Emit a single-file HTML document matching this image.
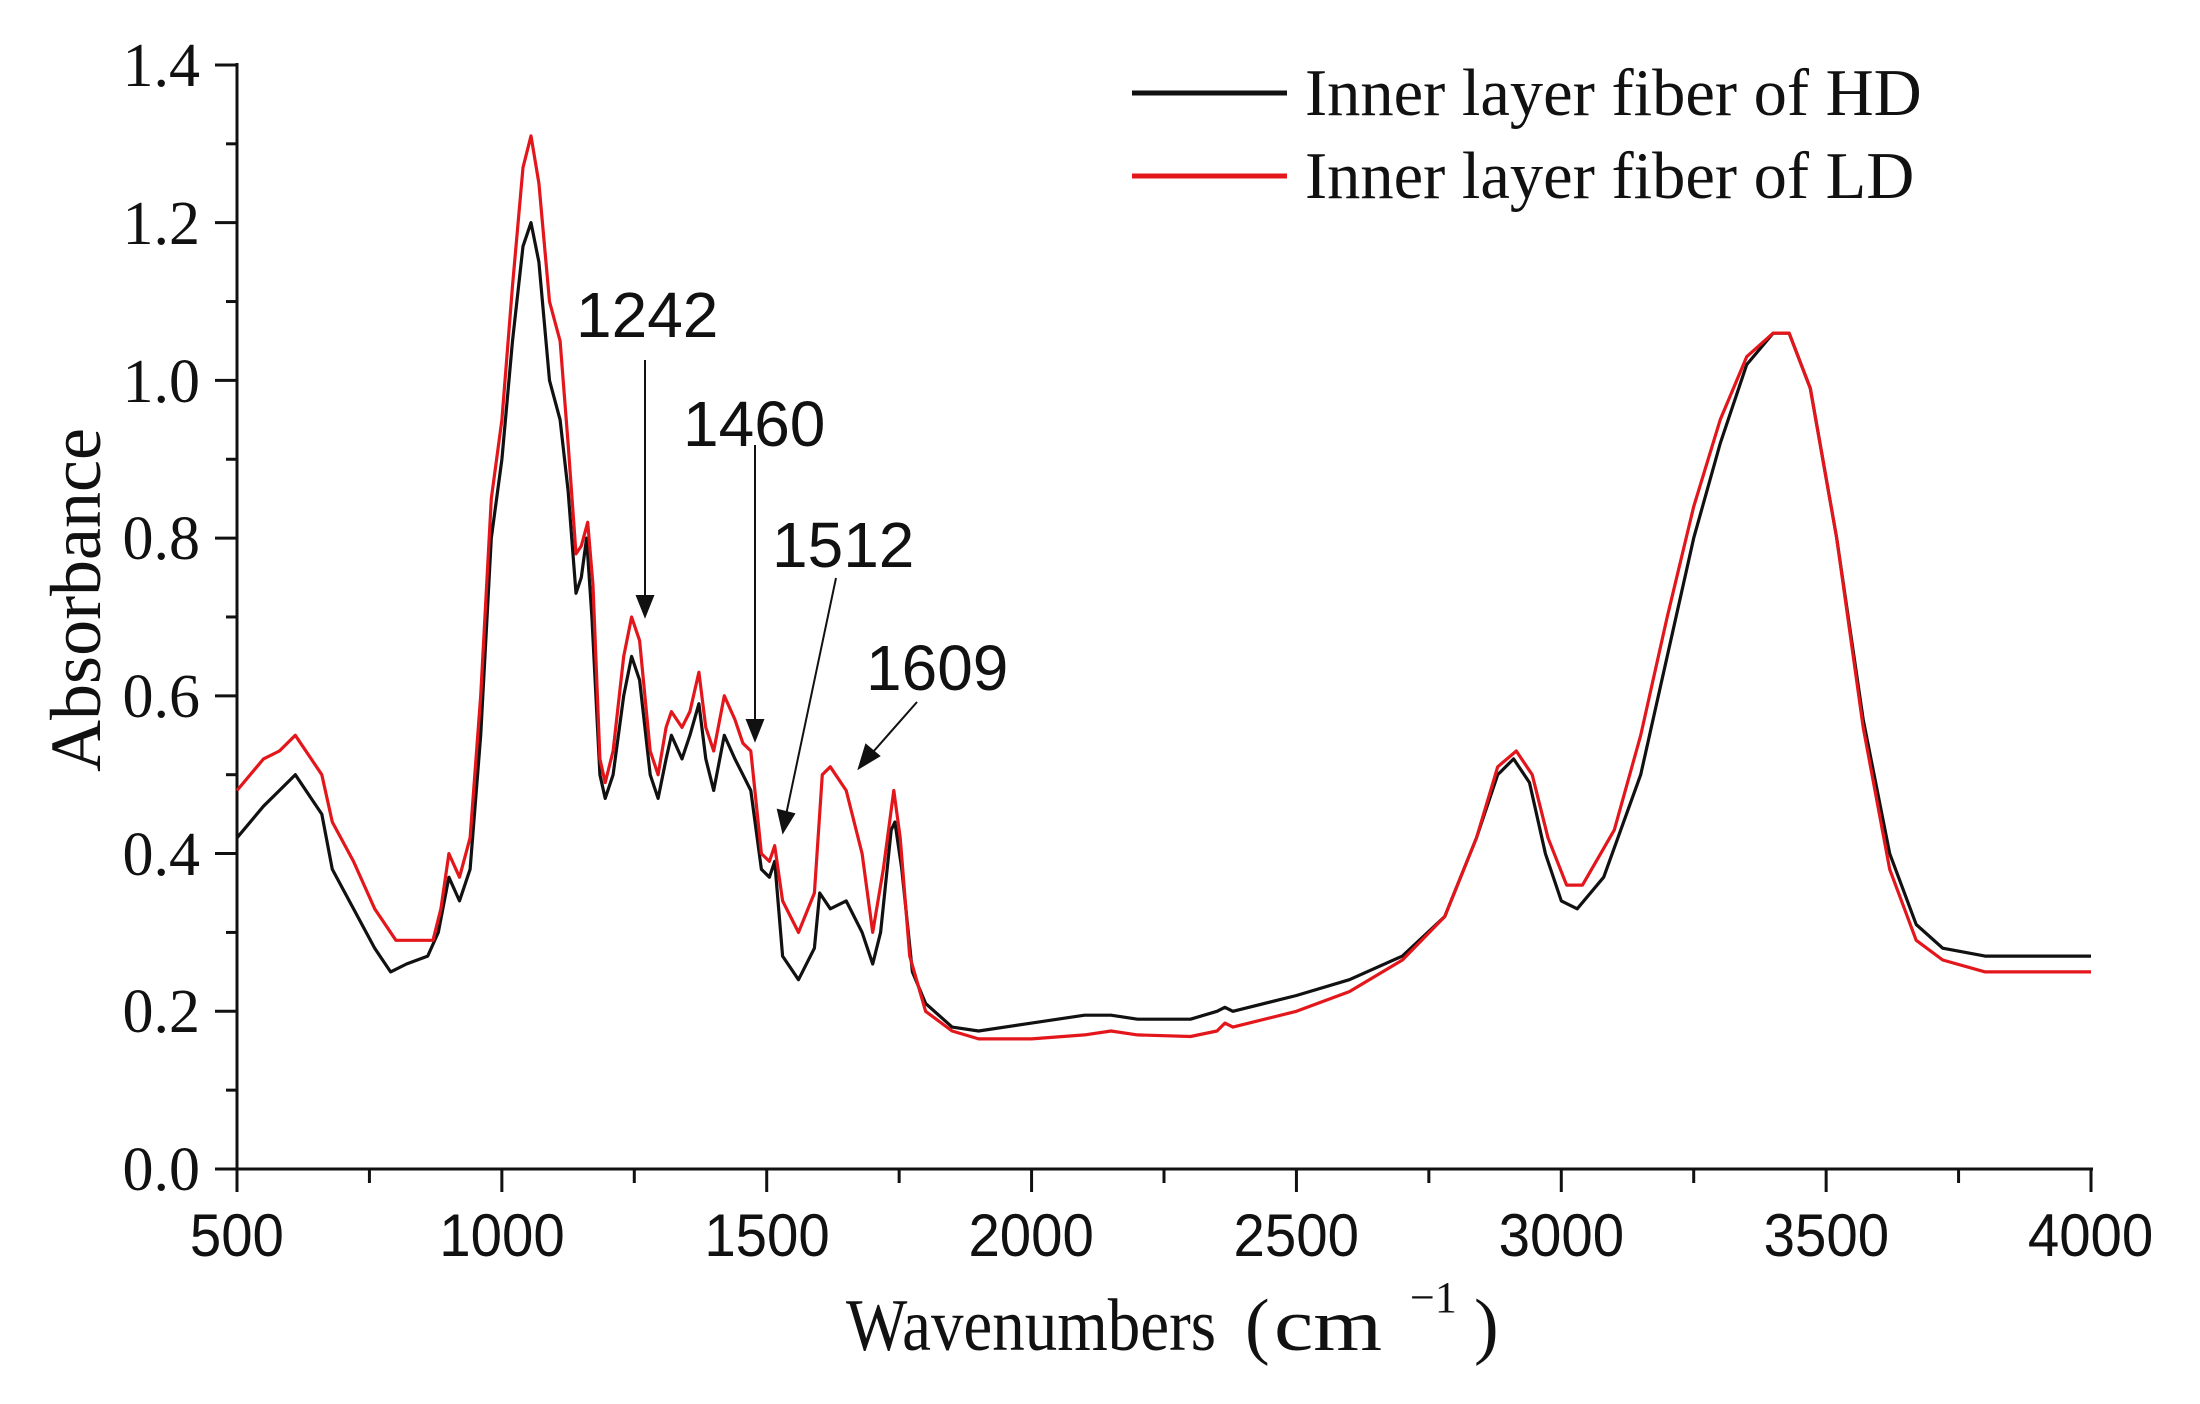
<!DOCTYPE html>
<html><head><meta charset="utf-8">
<style>
html,body{margin:0;padding:0;background:#fff;}
svg{display:block;}
.t{font-family:"Liberation Serif",serif;fill:#111;}
.s{font-family:"Liberation Sans",sans-serif;fill:#111;}
</style></head>
<body>
<svg id="c" width="2200" height="1404" viewBox="0 0 2200 1404" xmlns="http://www.w3.org/2000/svg">
<rect width="2200" height="1404" fill="#fff"/>
<g id="axes" stroke="#111" stroke-width="3" fill="none">
<line x1="237" y1="63" x2="237" y2="1170"/>
<line x1="236" y1="1169" x2="2093" y2="1169"/>
</g>
<g id="ticks" stroke="#111" stroke-width="3"></g>
<g class="t" font-size="62" text-anchor="end">
<text x="200" y="1190">0.0</text>
<text x="200" y="1032">0.2</text>
<text x="200" y="875">0.4</text>
<text x="200" y="717">0.6</text>
<text x="200" y="559">0.8</text>
<text x="200" y="402">1.0</text>
<text x="200" y="244">1.2</text>
<text x="200" y="86">1.4</text>
</g>
<g class="s" font-size="60" text-anchor="middle" transform="scale(0.94 1)">
<text x="252" y="1256">500</text>
<text x="534" y="1256">1000</text>
<text x="816" y="1256">1500</text>
<text x="1097" y="1256">2000</text>
<text x="1379" y="1256">2500</text>
<text x="1661" y="1256">3000</text>
<text x="1943" y="1256">3500</text>
<text x="2224" y="1256">4000</text>
</g>
<text class="t" font-size="72" text-anchor="middle" transform="translate(100 600) rotate(-90)">Absorbance</text>
<text class="t" font-size="74" x="846" y="1350" textLength="370" lengthAdjust="spacingAndGlyphs">Wavenumbers</text>
<text class="t" font-size="74" x="1245" y="1350">(</text>
<text class="t" font-size="74" x="1274" y="1350" textLength="108" lengthAdjust="spacingAndGlyphs">cm</text>
<text class="t" font-size="44" x="1410" y="1312">−1</text>
<text class="t" font-size="74" x="1474" y="1350">)</text>
<line x1="1132" y1="93" x2="1287" y2="93" stroke="#111" stroke-width="5"/>
<line x1="1132" y1="176" x2="1287" y2="176" stroke="#e3171b" stroke-width="5"/>
<text class="t" font-size="66.5" x="1305" y="115">Inner layer fiber of HD</text>
<text class="t" font-size="66.5" x="1305" y="198">Inner layer fiber of LD</text>
<g class="s" font-size="64">
<text x="576" y="337">1242</text>
<text x="683" y="446">1460</text>
<text x="772" y="567">1512</text>
<text x="866" y="690">1609</text>
</g>
<g stroke="#111" stroke-width="2" fill="#111">
<line x1="645" y1="360" x2="645" y2="598"/><path d="M637,596 L653,596 L645,616 z"/>
<line x1="755" y1="445" x2="755" y2="722"/><path d="M747,720 L763,720 L755,740 z"/>
<line x1="836" y1="578" x2="786" y2="815"/><path d="M778,810 L794,814 L783,832 z"/>
<line x1="917" y1="702" x2="873" y2="752"/><path d="M866,745 L879,756 L859,768 z"/>
</g>
<polyline id="hd" fill="none" stroke="#111" stroke-width="3.2" stroke-linejoin="round"/>
<polyline id="ld" fill="none" stroke="#e3171b" stroke-width="3.2" stroke-linejoin="round"/>
</svg>
<script>
function X(w){return 237+(w-500)*1854/3500;}
function Y(a){return 1169-a*788.6;}
var hd=[500,.42,550,.46,580,.48,610,.50,640,.47,660,.45,680,.38,720,.33,760,.28,790,.25,820,.26,860,.27,880,.30,900,.37,920,.34,940,.38,960,.55,980,.80,1000,.90,1020,1.05,1040,1.17,1055,1.20,1070,1.15,1090,1.00,1110,.95,1125,.86,1140,.73,1150,.75,1160,.80,1170,.70,1185,.50,1195,.47,1210,.50,1230,.60,1245,.65,1260,.62,1280,.50,1295,.47,1310,.52,1320,.55,1340,.52,1355,.55,1372,.59,1385,.52,1400,.48,1420,.55,1440,.52,1455,.50,1470,.48,1490,.38,1505,.37,1515,.39,1530,.27,1560,.24,1590,.28,1600,.35,1620,.33,1650,.34,1680,.30,1700,.26,1715,.30,1735,.43,1742,.44,1755,.38,1775,.25,1800,.21,1850,.18,1900,.175,2000,.185,2100,.195,2150,.195,2200,.19,2300,.19,2350,.20,2365,.205,2380,.20,2500,.22,2600,.24,2700,.27,2780,.32,2840,.42,2880,.50,2910,.52,2940,.49,2970,.40,3000,.34,3030,.33,3080,.37,3150,.50,3200,.65,3250,.80,3300,.92,3350,1.02,3400,1.06,3430,1.06,3470,.99,3520,.80,3570,.57,3620,.40,3670,.31,3720,.28,3800,.27,4000,.27];
var ld=[500,.48,550,.52,580,.53,610,.55,640,.52,660,.50,680,.44,720,.39,760,.33,800,.29,840,.29,870,.29,885,.33,900,.40,920,.37,940,.42,960,.60,980,.85,1000,.95,1020,1.12,1040,1.27,1055,1.31,1070,1.25,1090,1.10,1110,1.05,1125,.92,1140,.78,1150,.79,1162,.82,1172,.74,1185,.52,1195,.49,1210,.53,1230,.65,1245,.70,1260,.67,1280,.53,1295,.50,1310,.56,1320,.58,1340,.56,1355,.58,1372,.63,1385,.56,1400,.53,1420,.60,1440,.57,1455,.54,1470,.53,1490,.40,1505,.39,1515,.41,1530,.34,1560,.30,1590,.35,1605,.50,1620,.51,1650,.48,1680,.40,1700,.30,1720,.38,1740,.48,1752,.42,1770,.27,1800,.20,1850,.175,1900,.165,2000,.165,2100,.17,2150,.175,2200,.17,2300,.168,2350,.175,2365,.185,2380,.18,2500,.20,2600,.225,2700,.265,2780,.32,2840,.42,2880,.51,2915,.53,2945,.50,2975,.42,3010,.36,3040,.36,3100,.43,3150,.55,3200,.70,3250,.84,3300,.95,3350,1.03,3400,1.06,3430,1.06,3470,.99,3520,.80,3570,.56,3620,.38,3670,.29,3720,.265,3800,.25,4000,.25];
function pts(d){var s=[];for(var i=0;i<d.length;i+=2)s.push(X(d[i]).toFixed(1)+","+Y(d[i+1]).toFixed(1));return s.join(" ");}
document.getElementById("hd").setAttribute("points",pts(hd));
document.getElementById("ld").setAttribute("points",pts(ld));
var g=document.getElementById("ticks"),h="";
for(var i=0;i<=14;i++){var y=Y(i*0.1);var L=(i%2==0)?22:11;h+='<line x1="'+(237-L)+'" y1="'+y+'" x2="237" y2="'+y+'"/>';}
for(var w=500;w<=4000;w+=250){var x=X(w);var L=(w%500==0)?23:14;h+='<line x1="'+x+'" y1="1169" x2="'+x+'" y2="'+(1169+L)+'"/>';}
g.innerHTML=h;
</script>
</body></html>
